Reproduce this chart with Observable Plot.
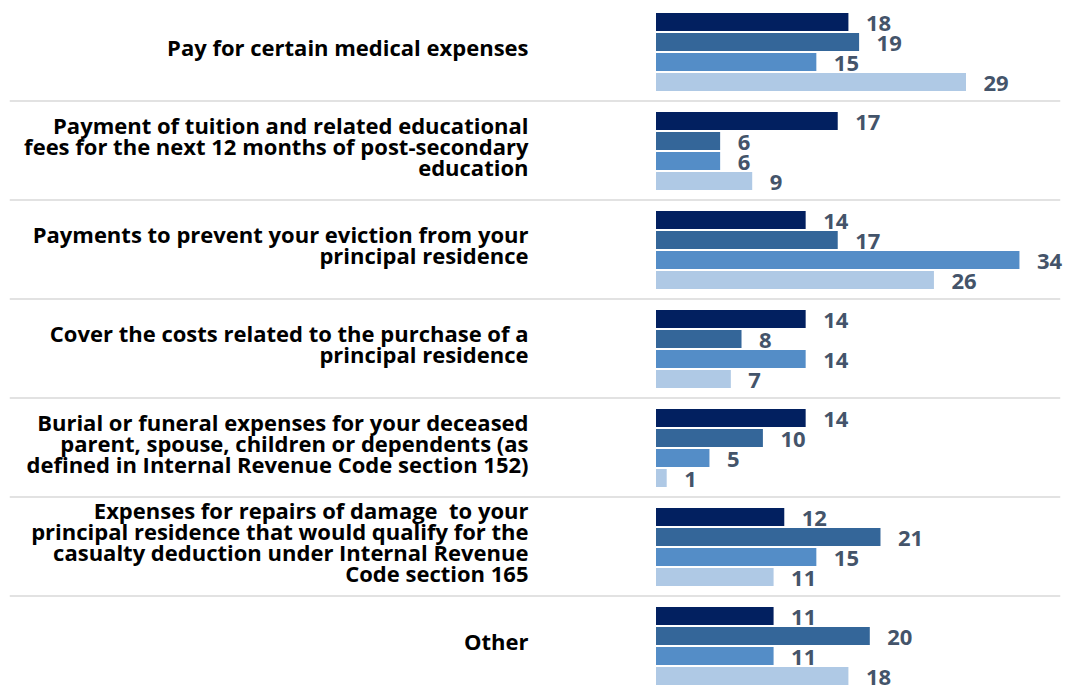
<!DOCTYPE html>
<html>
<head>
<meta charset="utf-8">
<script src="https://cdn.jsdelivr.net/npm/d3@7"></script>
<script src="https://cdn.jsdelivr.net/npm/@observablehq/plot@0.6"></script>
<style>
  html, body { margin: 0; padding: 0; background: #fff; overflow: hidden; }
  #chart { width: 1073px; height: 690px; overflow: hidden; }
</style>
</head>
<body>
<div id="chart"></div>
<script>
const categories = [
  "Pay for certain medical expenses",
  "Payment of tuition and related educational\nfees for the next 12 months of post-secondary\neducation",
  "Payments to prevent your eviction from your\nprincipal residence",
  "Cover the costs related to the purchase of a\nprincipal residence",
  "Burial or funeral expenses for your deceased\nparent, spouse, children or dependents (as\ndefined in Internal Revenue Code section 152)",
  "Expenses for repairs of damage  to your\nprincipal residence that would qualify for the\ncasualty deduction under Internal Revenue\nCode section 165",
  "Other"
];
const seriesNames = ["Series 1", "Series 2", "Series 3", "Series 4"];
const series1 = [18, 17, 14, 14, 14, 12, 11];
const series2 = [19, 6, 17, 8, 10, 21, 20];
const series3 = [15, 6, 34, 14, 5, 15, 11];
const series4 = [29, 9, 26, 7, 1, 11, 18];
const seriesColors = ["#022060", "#346699", "#548DC7", "#AFC9E5"];

const allSeries = [series1, series2, series3, series4];
const rows = [];
categories.forEach((c, i) => {
  seriesNames.forEach((s, j) => {
    rows.push({category: c, series: s, value: allSeries[j][i]});
  });
});

const chart = Plot.plot({
  width: 1073,
  height: 698,
  marginLeft: 656,
  marginRight: 14,
  marginTop: 0,
  marginBottom: 0,
  style: {fontFamily: "'Open Sans', sans-serif", background: "#fff"},
  x: {domain: [0, 37.7], axis: null},
  y: {domain: seriesNames, axis: null, paddingInner: 0.1, paddingOuter: 0.46, align: 0.46},
  fy: {domain: categories, axis: null, padding: 0},
  color: {domain: seriesNames, range: seriesColors},
  marks: [
    Plot.frame({anchor: "bottom", stroke: "#D9D9D9", strokeWidth: 1.5, insetLeft: -646, insetBottom: 1.5}),
    Plot.barX(rows, {x: "value", y: "series", fy: "category", fill: "series"}),
    Plot.text(rows, {
      x: "value", y: "series", fy: "category", text: d => String(d.value),
      textAnchor: "start", dx: 17, dy: 1, fill: "#44546A", fontSize: 22, fontWeight: "bold"
    }),
    Plot.text(categories, {
      fy: d => d, text: d => d, frameAnchor: "left", textAnchor: "end",
      lineAnchor: "middle", dx: -128, dy: -4, lineHeight: 0.95,
      fontSize: 22, fontWeight: "bold", fill: "#000"
    })
  ]
});
document.getElementById("chart").appendChild(chart);
</script>
</body>
</html>
